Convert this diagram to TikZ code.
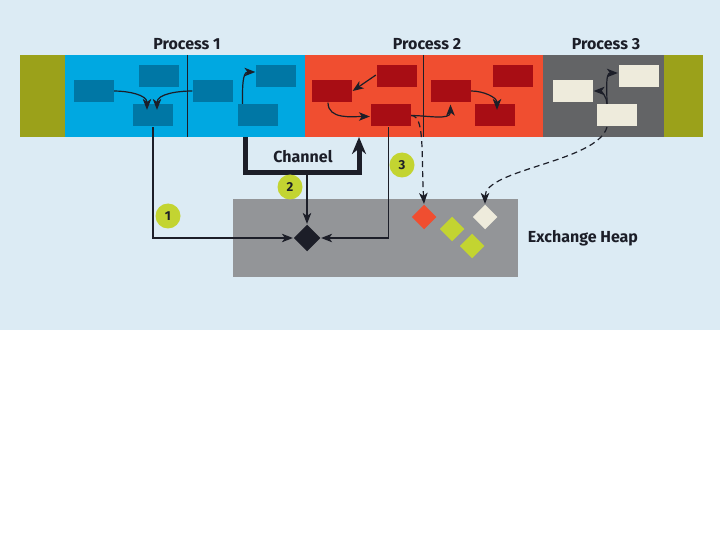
\documentclass[tikz,border=0pt]{standalone}
\usepackage{fontspec}
\setmainfont{Fira Sans}
\usetikzlibrary{arrows.meta,shapes.geometric}
\definecolor{bgblue}{HTML}{DCEBF4}
\definecolor{olive}{HTML}{9BA11A}
\definecolor{procblue}{HTML}{00A8E1}
\definecolor{boxblue}{HTML}{0077A5}
\definecolor{procred}{HTML}{F04E30}
\definecolor{boxred}{HTML}{A80D14}
\definecolor{procgrey}{HTML}{636466}
\definecolor{boxcream}{HTML}{EEEBDC}
\definecolor{heapgrey}{HTML}{939598}
\definecolor{lime}{HTML}{C3D431}
\definecolor{ink}{HTML}{1C1E28}

\begin{document}
\begin{tikzpicture}[x=1pt, y=-1pt, line width=1.2pt, >={Stealth[length=11pt,width=8.5pt,inset=3pt]},
    box/.style={minimum width=40pt, minimum height=22pt, inner sep=0pt},
    bluebox/.style={box, fill=boxblue},
    redbox/.style={box, fill=boxred},
    creambox/.style={box, fill=boxcream},
    gem/.style={diamond, minimum size=25pt, inner sep=0pt},
    numdot/.style={circle, fill=lime, minimum size=25pt, inner sep=0pt, text=ink, font=\bfseries\fontsize{13}{13}\selectfont},
    title/.style={text=ink, font=\bfseries\fontsize{16}{18}\selectfont},
    flow/.style={->, draw=ink},
    hop/.style={->, draw=ink, dash pattern=on 6pt off 4pt}]
    \useasboundingbox (0,0) rectangle (720,540);
    % Background
    \fill[bgblue] (0,0) rectangle (720,330);
    % Process strip
    \fill[olive] (20,55) rectangle (65,137);
    \fill[procblue] (65,55) rectangle (305,137);
    \fill[procred] (305,55) rectangle (543,137);
    \fill[procgrey] (543,55) rectangle (664,137);
    \fill[olive] (664,55) rectangle (703,137);
    \draw[ink, line width=0.8pt] (187,55) -- (187,137);
    \draw[ink, line width=0.8pt] (423,55) -- (423,137);
    % Titles
    \node[title] (p1lab) at (187,44) {Process 1};
    \node[title] (p2lab) at (427,44) {Process 2};
    \node[title] (p3lab) at (606,44) {Process 3};
    % Process 1 boxes
    \node[bluebox] (r1) at (93.5,91) {};
    \node[bluebox] (r2) at (158.5,76) {};
    \node[bluebox] (r3) at (153,115.5) {};
    \node[bluebox] (r4) at (213,91) {};
    \node[bluebox] (r5) at (276,76) {};
    \node[bluebox] (r6) at (257.5,115.5) {};
    % Process 2 boxes
    \node[redbox] (q1) at (332,91) {};
    \node[redbox] (q2) at (396.5,76) {};
    \node[redbox] (q3) at (390.5,115.5) {};
    \node[redbox] (q4) at (450.5,91) {};
    \node[redbox] (q5) at (513,76) {};
    \node[redbox] (q6) at (495,115.5) {};
    % Process 3 boxes
    \node[creambox] (w1) at (573,91) {};
    \node[creambox] (w2) at (638.5,76) {};
    \node[creambox] (w3) at (617,115.5) {};
    % Arrows inside processes
    \draw[flow] (r1.east) to[out=0,in=90] ([xshift=-6pt,yshift=-6pt]r3.north);
    \draw[flow] (r4.west) to[out=180,in=90] ([xshift=4pt,yshift=-6pt]r3.north);
    \draw[flow] ([xshift=-15pt]r6.north) to[out=90,in=180] ([yshift=4pt]r5.west);
    \draw[flow] ([yshift=1pt]q2.west) -- (q1.east);
    \draw[flow] ([xshift=-4pt]q1.south) to[out=-90,in=180] ([yshift=-1pt]q3.west);
    \draw[flow] (q3.east) to[out=0,in=-90] ([yshift=-2pt]q4.south);
    \draw[flow] (q4.east) to[out=0,in=90] ([xshift=2pt,yshift=-6pt]q6.north);
    \draw[flow] ([xshift=-10pt]w3.north) to[out=90,in=180] ([yshift=3pt]w2.west);
    \draw[flow] ([xshift=-10pt]w3.north) to[out=90,in=0] (w1.east);
    % Exchange heap
    \fill[heapgrey] (233,199) rectangle (518,277);
    \node[title] (heaplab) at (583,238) {Exchange Heap};
    \node[gem, fill=ink, minimum size=27pt] (blk) at (307,238) {};
    \node[gem, fill=procred] (hred) at (424,217) {};
    \node[gem, fill=lime] (hg1) at (452,229) {};
    \node[gem, fill=lime] (hg2) at (472,246) {};
    \node[gem, fill=boxcream] (hcr) at (485,217) {};
    % Channel
    \coordinate (chA) at (245,137);
    \coordinate (chB) at (359,137);
    \coordinate (chM) at (307,173);
    \draw[ink, line width=5pt, line join=miter, -{Stealth[length=17pt,width=14pt]}] (chA) -- ++(0,36) -| (chB);
    \node[title] (chlab) at (303,157) {Channel};
    % Links to the heap
    \draw[flow] (r3.south) |- (blk.west);
    \draw[flow] ([xshift=-2pt]q3.south) |- (blk.east);
    \draw[flow] (chM) -- (blk.north);
    \draw[hop] (q3.east) .. controls +(14,0) and +(-3,-50) .. (hred.north);
    \draw[hop] ([xshift=-10pt]w3.south) .. controls +(-10,35) and +(0,-35) .. (hcr.north);
    % Steps
    \node[numdot] (s1) at (168,216) {1};
    \node[numdot] (s2) at (290,187) {2};
    \node[numdot] (s3) at (402,165) {3};
\end{tikzpicture}
\end{document}
